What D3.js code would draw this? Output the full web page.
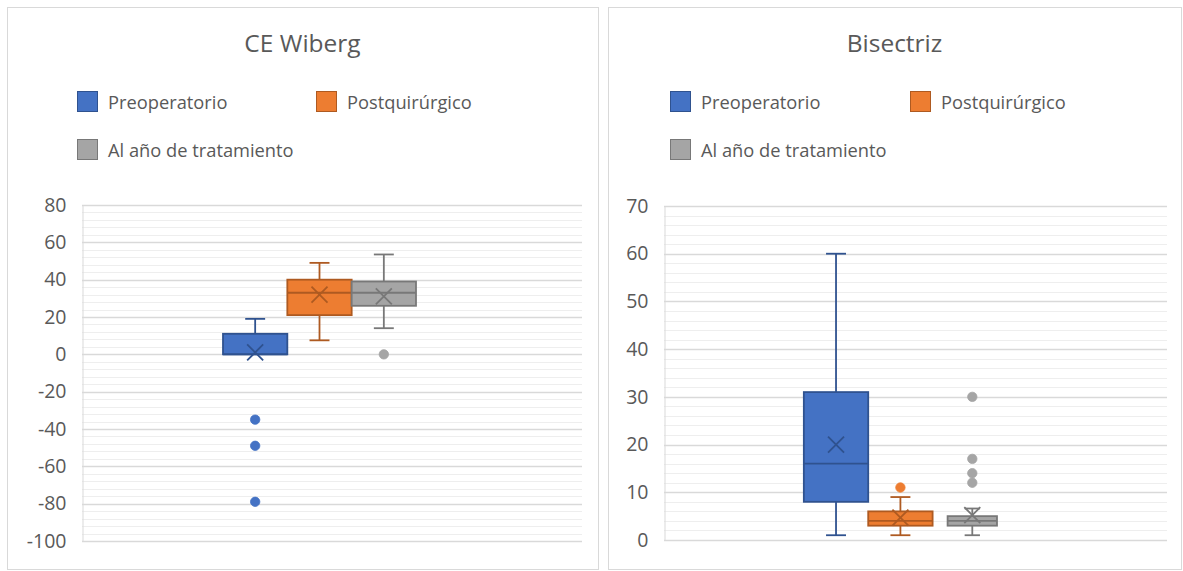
<!DOCTYPE html>
<html>
<head>
<meta charset="utf-8">
<script src="https://cdn.jsdelivr.net/npm/d3@7"></script>
<style>
  html, body { margin: 0; padding: 0; background: #ffffff; }
  svg { display: block; font-family: "Open Sans", "Noto Sans", sans-serif; }
</style>
</head>
<body>
<svg id="chart" width="1183" height="571"></svg>
<script>
// Series shared by both panels
const seriesNames = ["Preoperatorio", "Postquirúrgico", "Al año de tratamiento"];
const seriesFill = ["#4472c4", "#ed7d31", "#a5a5a5"];
const seriesStroke = ["#2f528f", "#ae5a21", "#787878"];

// CE Wiberg (degrees)
const wibergMin = [0, 7.5, 14];
const wibergQ1 = [0, 21, 26];
const wibergMedian = [0, 33, 33];
const wibergQ3 = [11, 40, 39];
const wibergMax = [19, 49, 53.5];
const wibergMean = [1, 32, 31];
const wibergOutliers = [[-35, -49, -79], [], [0]];
const wibergTicks = [-100, -80, -60, -40, -20, 0, 20, 40, 60, 80];

// Bisectriz
const bisMin = [1, 1, 1];
const bisQ1 = [8, 3, 3];
const bisMedian = [16, 4, 4];
const bisQ3 = [31, 6, 5];
const bisMax = [60, 9, 6.6];
const bisMean = [20, 4.7, 5.2];
const bisOutliers = [[], [11], [30, 17, 14, 12]];
const bisTicks = [0, 10, 20, 30, 40, 50, 60, 70];

const svg = d3.select("#chart");
const textColor = "#595959";

function drawPanel(p) {
  const g = svg.append("g");

  // panel frame
  g.append("rect")
    .attr("x", p.frame[0] + 0.5).attr("y", p.frame[1] + 0.5)
    .attr("width", p.frame[2] - p.frame[0]).attr("height", p.frame[3] - p.frame[1])
    .attr("fill", "#ffffff").attr("stroke", "#d9d9d9").attr("stroke-width", 1);

  // title
  g.append("text")
    .attr("x", (p.frame[0] + p.frame[2]) / 2).attr("y", 42)
    .attr("text-anchor", "middle").attr("dominant-baseline", "central")
    .attr("font-size", 24.5).attr("fill", textColor)
    .text(p.title);

  // legend
  const legendPos = [[p.legendX[0], 101], [p.legendX[1], 101], [p.legendX[0], 149]];
  seriesNames.forEach((name, i) => {
    const [lx, ly] = legendPos[i];
    g.append("rect")
      .attr("x", lx + 0.5).attr("y", ly - 10 + 0.5).attr("width", 20).attr("height", 20)
      .attr("fill", seriesFill[i]).attr("stroke", seriesStroke[i]).attr("stroke-width", 1);
    g.append("text")
      .attr("x", lx + 31).attr("y", ly)
      .attr("dominant-baseline", "central")
      .attr("font-size", 18.3).attr("fill", textColor)
      .text(name);
  });

  const [x0, x1] = p.plotX;
  const y = d3.scaleLinear().domain(d3.extent(p.ticks)).range([p.plotY[1], p.plotY[0]]);

  // minor gridlines
  const minor = d3.range(p.ticks[0], p.ticks[p.ticks.length - 1] + 1e-9, p.minorStep)
    .filter(v => !p.ticks.includes(v));
  g.append("g").selectAll("line").data(minor).join("line")
    .attr("x1", x0).attr("x2", x1)
    .attr("y1", d => Math.round(y(d)) + 0.5).attr("y2", d => Math.round(y(d)) + 0.5)
    .attr("stroke", "#eeeeee").attr("stroke-width", 1);

  // major gridlines
  g.append("g").selectAll("line").data(p.ticks).join("line")
    .attr("x1", x0).attr("x2", x1)
    .attr("y1", d => Math.round(y(d)) + 0.5).attr("y2", d => Math.round(y(d)) + 0.5)
    .attr("stroke", "#d9d9d9").attr("stroke-width", 1.3);

  // vertical axis (labels written with a plain hyphen)
  const axis = d3.axisLeft(y).tickValues(p.ticks).tickSize(0).tickPadding(16)
    .tickFormat(d => String(d));
  const ag = g.append("g").attr("transform", `translate(${x0 + 0.5},0)`).call(axis);
  ag.select(".domain").attr("stroke", "#d9d9d9");
  ag.selectAll("text").attr("font-size", 19.5).attr("fill", textColor)
    .attr("font-family", "'Open Sans', 'Noto Sans', sans-serif");

  // one category, three series side by side
  const xs = d3.scaleBand().domain(seriesNames)
    .range([x0 + p.groupFrac[0] * (x1 - x0), x0 + p.groupFrac[1] * (x1 - x0)]);

  seriesNames.forEach((name, i) => {
    const inset = p.leftInset[i];
    const bx0 = xs(name) + inset;
    const bx1 = xs(name) + xs.bandwidth();
    const cx = (bx0 + bx1) / 2;
    const capHalf = (bx1 - bx0) * 0.155;
    const sg = g.append("g");
    const st = seriesStroke[i];
    const sw = 1.8;

    // whiskers
    sg.append("line").attr("x1", cx).attr("x2", cx)
      .attr("y1", y(p.q3[i])).attr("y2", y(p.max[i]))
      .attr("stroke", st).attr("stroke-width", sw);
    sg.append("line").attr("x1", cx).attr("x2", cx)
      .attr("y1", y(p.q1[i])).attr("y2", y(p.min[i]))
      .attr("stroke", st).attr("stroke-width", sw);
    [p.max[i], p.min[i]].forEach(v => {
      if (v === p.q1[i] || v === p.q3[i]) return;
      sg.append("line").attr("x1", cx - capHalf).attr("x2", cx + capHalf)
        .attr("y1", y(v)).attr("y2", y(v))
        .attr("stroke", st).attr("stroke-width", sw);
    });

    // box
    sg.append("rect")
      .attr("x", bx0).attr("y", y(p.q3[i]))
      .attr("width", bx1 - bx0).attr("height", y(p.q1[i]) - y(p.q3[i]))
      .attr("fill", seriesFill[i]).attr("stroke", st).attr("stroke-width", sw);
    sg.append("line").attr("x1", bx0).attr("x2", bx1)
      .attr("y1", y(p.median[i])).attr("y2", y(p.median[i]))
      .attr("stroke", st).attr("stroke-width", sw);

    // mean marker
    const my = y(p.mean[i]);
    const mh = 8;
    sg.append("path")
      .attr("d", `M${cx - mh},${my - mh}L${cx + mh},${my + mh}M${cx - mh},${my + mh}L${cx + mh},${my - mh}`)
      .attr("stroke", st).attr("stroke-width", 1.8).attr("fill", "none");

    // outliers
    sg.selectAll("circle").data(p.outliers[i]).join("circle")
      .attr("cx", cx).attr("cy", d => y(d)).attr("r", 4.7)
      .attr("fill", seriesFill[i]).attr("stroke", seriesFill[i]).attr("stroke-width", 0.8);
  });
}

drawPanel({
  frame: [7, 7, 598, 569],
  title: "CE Wiberg",
  legendX: [77, 316],
  plotX: [82, 582], plotY: [205, 541],
  ticks: wibergTicks, minorStep: 4,
  groupFrac: [0.282, 0.668],
  leftInset: [0, 0, 0],
  min: wibergMin, q1: wibergQ1, median: wibergMedian, q3: wibergQ3, max: wibergMax,
  mean: wibergMean, outliers: wibergOutliers
});

drawPanel({
  frame: [608, 7, 1181, 569],
  title: "Bisectriz",
  legendX: [670, 910],
  plotX: [664, 1167], plotY: [206, 540],
  ticks: bisTicks, minorStep: 2,
  groupFrac: [0.278, 0.662],
  leftInset: [0, 0, 15],
  min: bisMin, q1: bisQ1, median: bisMedian, q3: bisQ3, max: bisMax,
  mean: bisMean, outliers: bisOutliers
});
</script>
</body>
</html>
